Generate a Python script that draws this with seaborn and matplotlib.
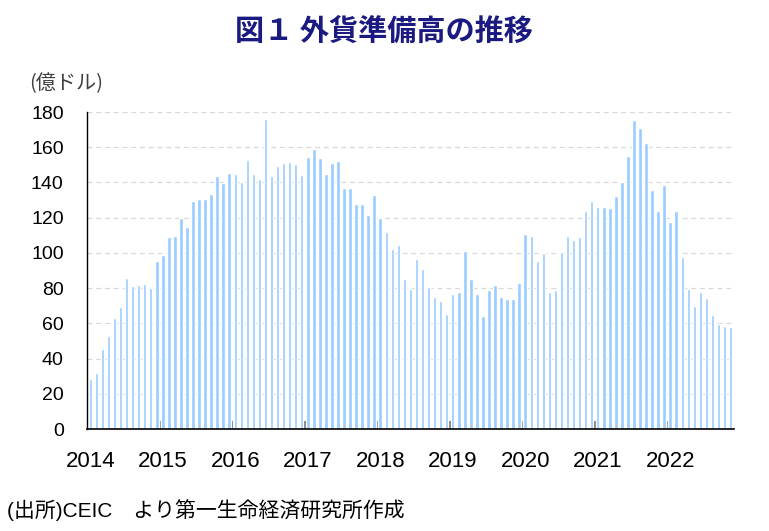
import numpy as np
import pandas as pd
import matplotlib
matplotlib.use('Agg')
import matplotlib.pyplot as plt
import seaborn as sns

# 外貨準備高 (億ドル), 月次 2014年1月〜2022年11月
Y2014 = [28.4, 31.8, 45.4, 53.0, 63.0, 69.5, 85.7, 81.0, 81.8, 82.3, 79.9, 95.2]
Y2015 = [98.6, 108.8, 109.4, 120.0, 114.7, 129.3, 130.4, 130.4, 133.4, 143.9, 139.9, 145.6]
Y2016 = [145.0, 140.5, 152.8, 145.0, 142.2, 176.2, 143.9, 149.2, 151.0, 151.6, 150.3, 144.4]
Y2017 = [154.5, 159.2, 153.9, 145.0, 151.0, 152.2, 136.9, 136.9, 128.0, 128.0, 121.5, 132.9]
Y2018 = [120.0, 112.1, 102.2, 104.7, 85.4, 79.5, 96.3, 91.0, 80.6, 74.8, 72.9, 65.3]
Y2019 = [76.5, 78.0, 101.0, 85.2, 76.5, 64.2, 78.7, 81.8, 74.8, 74.0, 74.0, 83.1]
Y2020 = [110.9, 109.8, 95.2, 99.9, 77.6, 78.7, 100.7, 109.8, 107.3, 109.2, 124.0, 129.3]
Y2021 = [126.3, 126.3, 125.7, 132.1, 140.3, 154.8, 175.5, 170.7, 162.6, 135.7, 124.0, 138.6]
Y2022 = [117.4, 124.0, 97.5, 79.3, 69.8, 78.0, 74.4, 64.5, 59.8, 58.7, 57.9]

YEARS = ['2014', '2015', '2016', '2017', '2018', '2019', '2020', '2021', '2022']
Y_TICKS = [0, 20, 40, 60, 80, 100, 120, 140, 160, 180]

TITLE = '図１ 外貨準備高の推移'
UNIT = '(億ドル)'
SOURCE = '(出所)CEIC\u3000より第一生命経済研究所作成'

values = Y2014 + Y2015 + Y2016 + Y2017 + Y2018 + Y2019 + Y2020 + Y2021 + Y2022
months = pd.date_range('2014-01-01', periods=len(values), freq='MS')
df = pd.DataFrame({'month': months.strftime('%Y-%m'), 'reserve': values})

sns.set_style('white')
plt.rcParams['font.family'] = ['Liberation Sans', 'Noto Sans CJK JP', 'DejaVu Sans']

fig = plt.figure(figsize=(7.69, 5.31), dpi=100)
ax = fig.add_axes([0.1135, 0.192, 0.8405, 0.597])

sns.barplot(data=df, x='month', y='reserve', color='#99CCFF', saturation=1,
            width=0.58, ax=ax)

n = len(values)
ax.set_xlim(-0.5, n - 0.5)
ax.set_ylim(0, 180)

# 目盛線
ax.set_yticks(Y_TICKS)
ax.yaxis.grid(True, color='#D9D9D9', linestyle=(0, (4, 3)), linewidth=0.9)
ax.set_axisbelow(True)

# x軸: 1月の位置に年ラベル、年の境目に内向きの小さい目盛
jan_pos = [i * 12 for i in range(len(YEARS))]
ax.set_xticks(jan_pos)
ax.set_xticklabels(YEARS)
ax.set_xticks([i * 12 - 0.5 for i in range(1, len(YEARS))], minor=True)
ax.tick_params(axis='x', which='major', length=0, pad=16, labelsize=16,
               labelcolor='black')
ax.tick_params(axis='x', which='minor', direction='in', length=5.5, width=1.2,
               color='#595959', bottom=True)
ax.tick_params(axis='y', length=0, pad=17, labelsize=14, labelcolor='black')

ax.set_xlabel('')
ax.set_ylabel('')

for side in ['top', 'right']:
    ax.spines[side].set_visible(False)
ax.spines['left'].set_color('black')
ax.spines['left'].set_linewidth(1.0)
ax.spines['bottom'].set_color('black')
ax.spines['bottom'].set_linewidth(1.2)

fig.text(384 / 769, 1 - 31 / 531, TITLE, ha='center', va='center',
         fontsize=21, fontweight='bold', color='#1A1A80',
         family=['Noto Sans CJK JP', 'DejaVu Sans'])
fig.text(29 / 769, 1 - 84 / 531, UNIT, ha='left', va='center',
         fontsize=14.5, color='#404040',
         family=['Noto Sans CJK JP', 'DejaVu Sans'])
fig.text(7 / 769, 1 - 510 / 531, SOURCE, ha='left', va='center',
         fontsize=15, color='black',
         family=['Liberation Sans', 'Noto Sans CJK JP', 'DejaVu Sans'])

fig.savefig('out.png', dpi=100)
plt.close(fig)
